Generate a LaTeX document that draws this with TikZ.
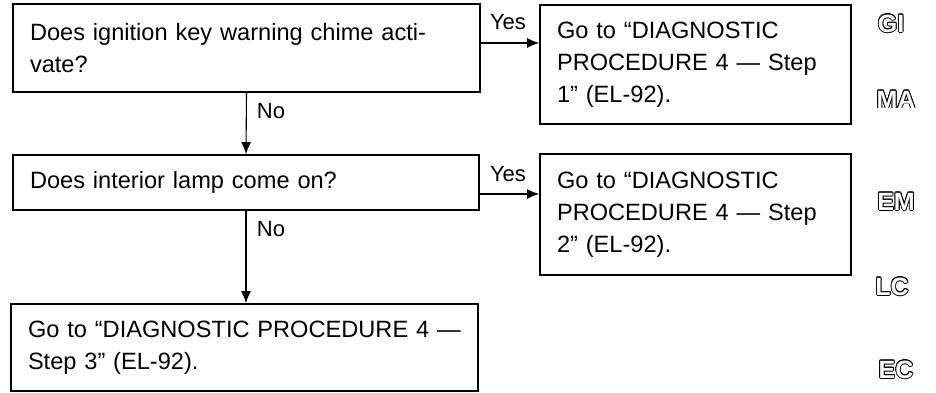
\documentclass[tikz,border=0pt]{standalone}
\usepackage{fontspec}
\setmainfont{Liberation Sans}
\usepackage[copies]{contour}
\contourlength{0.8pt}
\usetikzlibrary{arrows.meta}
\tikzset{
  box/.style={draw, line width=1.7pt, inner xsep=17pt, inner ysep=0pt, align=left,
    font={\fontsize{23.6}{32}\selectfont}, anchor=center},
  arr/.style={line width=1.1pt, -{Latex[length=12pt,width=10pt]}},
  lab/.style={font={\fontsize{22}{24}\selectfont}, inner sep=0pt},
  side/.style={font={\fontsize{25}{26}\selectfont\bfseries}, inner sep=0pt}
}
\newcommand{\hollow}[1]{\contour{black}{\textcolor{white}{#1}}}
\begin{document}
\begin{tikzpicture}[x=1pt,y=-1pt]
\useasboundingbox (0,0) rectangle (936,393);
\node[box, text width=433pt, minimum height=88pt] (b1) at (246.5,48)
  {Does ignition key warning chime acti-\\vate?};
\node[box, text width=277pt, minimum height=119pt] (b2) at (695.5,64.5)
  {Go to ``DIAGNOSTIC\\PROCEDURE 4 --- Step\\1'' (EL-92).};
\node[box, text width=432pt, minimum height=55pt] (b3) at (246,182.5)
  {Does interior lamp come on?};
\node[box, text width=277pt, minimum height=121pt] (b4) at (695.5,214.5)
  {Go to ``DIAGNOSTIC\\PROCEDURE 4 --- Step\\2'' (EL-92).};
\node[box, text width=433pt, minimum height=87pt] (b5) at (244.5,347.5)
  {Go to ``DIAGNOSTIC PROCEDURE 4~---\\Step 3'' (EL-92).};
\coordinate (y1) at (0,43);
\coordinate (y2) at (0,194);
\draw[arr] (y1 -| b1.east) -- (y1 -| b2.west);
\draw[arr] (y2 -| b3.east) -- (y2 -| b4.west);
\draw[arr] (b1.south) -- (b3.north);
\draw[arr] (b3.south) -- (b3.south |- b5.north);
\node[lab] (yes1) at (508,22) {Yes};
\node[lab] (yes2) at (508,174) {Yes};
\node[lab] (no1) at (271,111) {No};
\node[lab] (no2) at (271,229) {No};
\node[side] (gi) at (891,24) {\hollow{GI}};
\node[side] (ma) at (896,100) {\hollow{MA}};
\node[side] (em) at (896,202) {\hollow{EM}};
\node[side] (lc) at (892,287) {\hollow{LC}};
\node[side] (ec) at (896,370) {\hollow{EC}};
\end{tikzpicture}
\end{document}
